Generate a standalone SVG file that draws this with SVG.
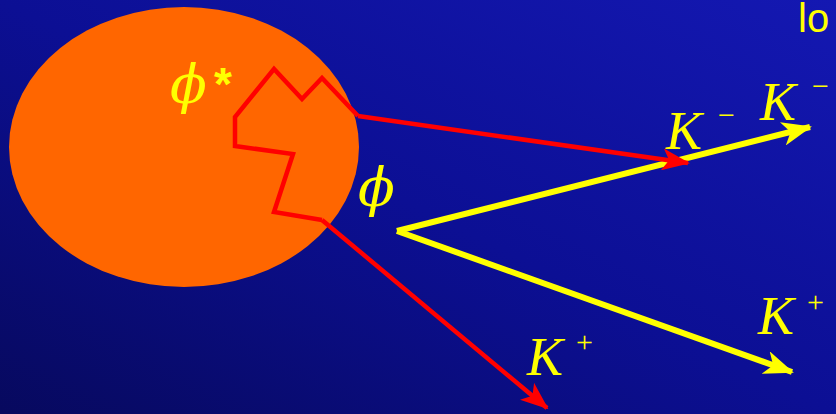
<svg xmlns="http://www.w3.org/2000/svg" width="836" height="414" viewBox="0 0 836 414">
<defs>
<linearGradient id="bg" x1="0" y1="1" x2="1" y2="0">
<stop offset="0" stop-color="#07095e"/>
<stop offset="0.5" stop-color="#0c0f94"/>
<stop offset="1" stop-color="#1418b2"/>
</linearGradient>
<marker id="ay" viewBox="0 0 30 24" refX="28" refY="12" markerWidth="30" markerHeight="24" markerUnits="userSpaceOnUse" orient="auto">
<path d="M0,0 L30,12 L0,24 L8,12 z" fill="#ffff00"/>
</marker>
<marker id="ar" viewBox="0 0 28 22" refX="26" refY="11" markerWidth="28" markerHeight="22" markerUnits="userSpaceOnUse" orient="auto">
<path d="M0,0 L28,11 L0,22 L7,11 z" fill="#ff0000"/>
</marker>
</defs>
<style>
.k{font-family:"Liberation Serif","DejaVu Serif",serif;font-style:italic;fill:#ffff00;font-size:54px}
.sup{font-family:"Liberation Serif","DejaVu Serif",serif;fill:#ffff00;font-size:30px}
.phi{font-family:"DejaVu Serif","Liberation Serif",serif;font-style:italic;fill:#ffff00;font-size:54px}
.y{fill:none;stroke:#ffff00;stroke-width:6;stroke-linejoin:miter}
.r{fill:none;stroke:#ff0000;stroke-width:4.5;stroke-linejoin:miter}
</style>
<rect width="836" height="414" fill="url(#bg)"/>
<g id="blob">
<ellipse cx="184" cy="147" rx="175" ry="140" fill="#ff6600"/>
</g>
<g id="connectors">
<line class="y" x1="397" y1="231" x2="810" y2="127" marker-end="url(#ay)"/>
<line class="y" x1="397" y1="231" x2="792" y2="372" marker-end="url(#ay)"/>
<polyline class="r" points="358,116 322,78 302,99 274,69 235,117 235,146 293,154 274,212 322,220"/>
<line class="r" x1="358" y1="116" x2="688" y2="163" marker-end="url(#ar)"/>
<line class="r" x1="322" y1="220" x2="547" y2="408" marker-end="url(#ar)"/>
</g>
<g id="labels">
<text class="phi" x="170" y="103">ϕ</text>
<text x="214" y="100" font-family="Liberation Sans,Arial,sans-serif" font-weight="bold" font-size="46" fill="#ffff00">*</text>
<text class="phi" x="358" y="206">ϕ</text>
<text class="k" x="666" y="149">K</text><text class="sup" x="718" y="125">−</text>
<text class="k" x="760" y="120">K</text><text class="sup" x="812" y="96">−</text>
<text class="k" x="758" y="334">K</text><text class="sup" x="807" y="312">+</text>
<text class="k" x="527" y="375">K</text><text class="sup" x="576" y="352">+</text>
<text x="798" y="32" font-family="Liberation Sans,Arial,sans-serif" font-size="40" fill="#ffff00">lo</text>
</g>
</svg>
